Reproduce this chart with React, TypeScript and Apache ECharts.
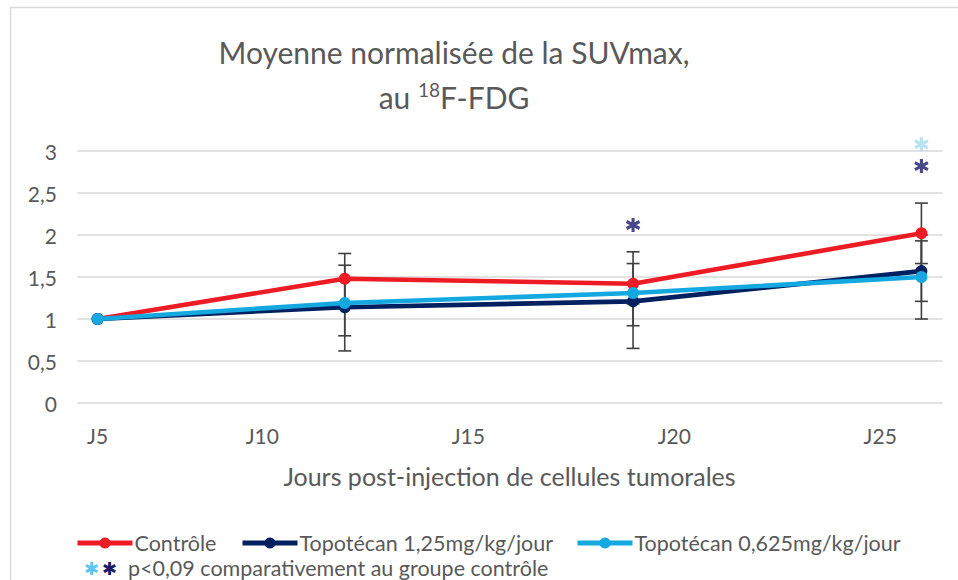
import React, { useEffect, useRef } from "react";
import * as echarts from "echarts";

// ---- data ----
const days = [6, 12, 19, 26];
const tickDays = [6, 10, 15, 20, 25];
const tickLabels = ["J5", "J10", "J15", "J20", "J25"];

const seriesNames = ["Contrôle", "Topotécan 1,25mg/kg/jour", "Topotécan 0,625mg/kg/jour"];
const controle = [1, 1.48, 1.42, 2.02];
const topo125 = [1, 1.14, 1.21, 1.57];
const topo0625 = [1, 1.19, 1.31, 1.5];

// error bar ends (low / high)
const controleLow = [null, 1.18, 1.18, 1.66];
const controleHigh = [null, 1.78, 1.66, 2.38];
const topo125Low = [null, 0.62, 0.65, 1.21];
const topo125High = [null, 1.64, 1.8, 1.93];
const topo0625Low = [null, 0.8, 0.92, 1.0];
const topo0625High = [null, 1.48, 1.42, 2.0];

// significance stars [day, y]
const starsTopo125 = [[19, 2.12], [26, 2.82]];
const starsTopo0625 = [[26, 3.08]];

const colors = ["#ED1C24", "#00205F", "#13A8E0"];
const FONT = "Lato";
const GREY = "#595959";

export default function App() {
  const ref = useRef<HTMLDivElement>(null);
  useEffect(() => {
    if (!ref.current) return;
    document.body.style.margin = "0";
    const chart = echarts.init(ref.current, undefined, { renderer: "svg" });

    const lineData = (vals: number[]) => days.map((d, i) => [d, vals[i]]);
    const errData = (lo: (number | null)[], hi: (number | null)[]) =>
      days
        .map((d, i) => (lo[i] == null ? null : [d, lo[i], hi[i]]))
        .filter((v) => v != null);

    const errorBars: any[] = [
      ...errData(controleLow, controleHigh),
      ...errData(topo125Low, topo125High),
      ...errData(topo0625Low, topo0625High),
    ];

    const starPath = "path://M0,-10L0,10M-8.66,-5L8.66,5M-8.66,5L8.66,-5";

    const mkLine = (name: string, vals: number[], color: string, z: number) => ({
      name,
      type: "line",
      data: lineData(vals),
      symbol: "circle",
      symbolSize: 12,
      z,
      lineStyle: { color, width: 4.6 },
      itemStyle: { color },
    });

    const legendLefts = [75, 240, 575];
    const legends = seriesNames.map((n, i) => ({
      data: [n],
      left: legendLefts[i],
      top: 532,
      itemWidth: 55,
      itemHeight: 14,
      itemGap: 0,
      padding: 0,
      lineStyle: { width: 5 },
      textStyle: {
        fontFamily: FONT,
        fontSize: 21.5,
        color: GREY,
        padding: [0, 0, 0, -3],
      },
    }));

    const option: any = {
      animation: false,
      textStyle: { fontFamily: FONT },
      title: {
        text: "Moyenne normalisée de la SUVmax,\nau {sup|18}F-FDG",
        left: 449,
        top: 24,
        textAlign: "center",
        textStyle: {
          fontFamily: FONT,
          fontSize: 30,
          fontWeight: "normal",
          color: GREY,
          lineHeight: 45,
          rich: {
            sup: { fontSize: 19, color: GREY, fontFamily: FONT, padding: [0, 0, 14, 0] },
          },
        },
      },
      graphic: [
        {
          type: "rect",
          shape: { x: 10.5, y: 7.5, width: 1200, height: 1200 },
          style: { fill: "none", stroke: "#d9d9d9", lineWidth: 1.5 },
          silent: true,
        },
        {
          type: "text",
          left: 84,
          top: 559,
          style: { text: "✱", fill: "#5cc6f0", fontSize: 18, fontFamily: "DejaVu Sans" },
        },
        {
          type: "text",
          left: 102,
          top: 559,
          style: { text: "✱", fill: "#1a1a6a", fontSize: 18, fontFamily: "DejaVu Sans" },
        },
        {
          type: "text",
          left: 128,
          top: 557,
          style: {
            text: "p<0,09 comparativement au groupe contrôle",
            fill: GREY,
            fontSize: 21.5,
            fontFamily: FONT,
          },
        },
      ],
      legend: legends,
      grid: { left: 77, right: 16, top: 151, bottom: 177 },
      xAxis: {
        type: "value",
        min: 5.5,
        max: 26.5,
        axisLine: { show: false },
        axisTick: { show: false },
        splitLine: { show: false },
        axisLabel: {
          customValues: tickDays,
          formatter: (v: number) => {
            const i = tickDays.indexOf(v);
            return i >= 0 ? tickLabels[i] : "";
          },
          fontFamily: FONT,
          fontSize: 21,
          color: GREY,
          margin: 22,
        },
        name: "Jours post-injection de cellules tumorales",
        nameLocation: "middle",
        nameGap: 60,
        nameTextStyle: { fontFamily: FONT, fontSize: 25, color: GREY },
      },
      yAxis: {
        type: "value",
        min: 0,
        max: 3,
        interval: 0.5,
        axisLine: { show: false },
        axisTick: { show: false },
        splitLine: { lineStyle: { color: "#d9d9d9", width: 1.5 } },
        axisLabel: {
          formatter: (v: number) => String(v).replace(".", ","),
          fontFamily: FONT,
          fontSize: 21,
          color: GREY,
          margin: 20,
        },
      },
      series: [
        {
          type: "custom",
          name: "err",
          z: 1,
          data: errorBars,
          encode: { x: 0, y: [1, 2] },
          renderItem: (params: any, api: any) => {
            const x = api.value(0);
            const pLo = api.coord([x, api.value(1)]);
            const pHi = api.coord([x, api.value(2)]);
            const w = 6.5;
            const st = { stroke: "#404040", lineWidth: 1.6 };
            return {
              type: "group",
              children: [
                { type: "line", shape: { x1: pLo[0], y1: pLo[1], x2: pHi[0], y2: pHi[1] }, style: st },
                { type: "line", shape: { x1: pLo[0] - w, y1: pLo[1], x2: pLo[0] + w, y2: pLo[1] }, style: st },
                { type: "line", shape: { x1: pHi[0] - w, y1: pHi[1], x2: pHi[0] + w, y2: pHi[1] }, style: st },
              ],
            };
          },
        },
        mkLine(seriesNames[0], controle, colors[0], 3),
        mkLine(seriesNames[1], topo125, colors[1], 4),
        mkLine(seriesNames[2], topo0625, colors[2], 5),
        {
          type: "scatter",
          name: "stars125",
          data: starsTopo125,
          symbol: starPath,
          symbolSize: [13, 14],
          clip: false,
          z: 6,
          itemStyle: { color: "#1a1a6a", borderColor: "#1a1a6a", borderWidth: 3.2 },
        },
        {
          type: "scatter",
          name: "stars0625",
          data: starsTopo0625,
          symbol: starPath,
          symbolSize: [13, 14],
          clip: false,
          z: 6,
          itemStyle: { color: "#a8dcf0", borderColor: "#a8dcf0", borderWidth: 3.2 },
        },
      ],
    };
    chart.setOption(option);
    return () => chart.dispose();
  }, []);
  return (
    <div
      ref={ref}
      style={{ position: "fixed", left: 0, top: 0, width: 958, height: 580, background: "#fff" }}
    />
  );
}
